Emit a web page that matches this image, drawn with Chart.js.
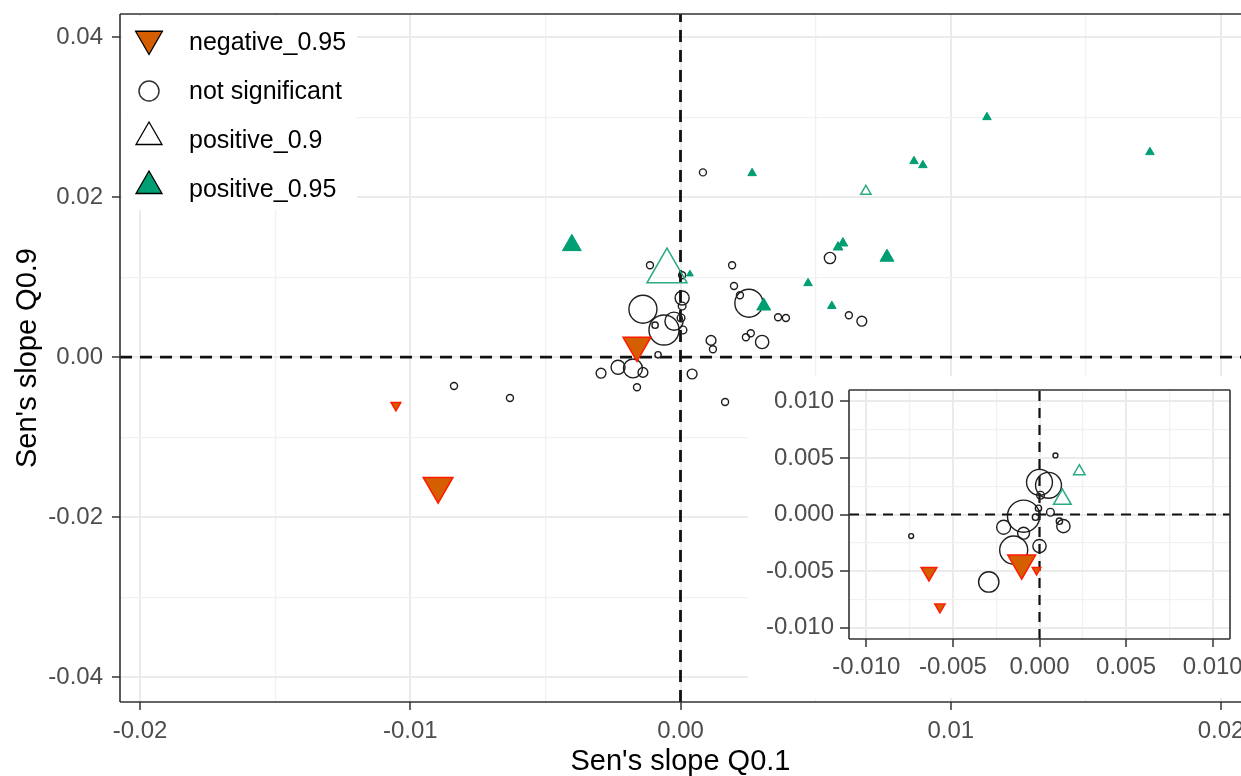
<!DOCTYPE html>
<html>
<head>
<meta charset="utf-8">
<script src="https://cdn.jsdelivr.net/npm/chart.js@4.4.1/dist/chart.umd.min.js"></script>
<style>
  html, body { margin: 0; padding: 0; background: #fff; overflow: hidden; }
  #wrap { position: relative; width: 1241px; height: 776px; }
  #main { position: absolute; left: 0; top: 0; }
  #inset { position: absolute; left: 748px; top: 376px; }
</style>
</head>
<body>
<div id="wrap">
  <canvas id="main" width="1241" height="776"></canvas>
  <canvas id="inset" width="493" height="322"></canvas>
</div>
<script>
'use strict';

// ── data ──────────────────────────────────────────────────────────────────────
// legend categories
const categories = ['negative_0.95', 'not significant', 'positive_0.9', 'positive_0.95'];

// main panel: Sen's slope Q0.1 (x) vs Q0.9 (y); sz = point size (relative)
const negX = [-0.01053, -0.00897, -0.00161];
const negY = [-0.0060, -0.0161, 0.0015];
const negSz = [1.6, 4.9, 4.6];

const pos90X = [-0.0005, 0.00686];
const pos90Y = [0.01075, 0.02075];
const pos90Sz = [6.6, 1.7];

const pos95X = [-0.00402, 0.00035, 0.00308, 0.00265, 0.00472, 0.0056, 0.00583, 0.00601, 0.00764, 0.00864, 0.00897, 0.01134, 0.01737];
const pos95Y = [0.0140, 0.0104, 0.0064, 0.0230, 0.00925, 0.0064, 0.01375, 0.01425, 0.0125, 0.0245, 0.0240, 0.0300, 0.02563];
const pos95Sz = [3.1, 1.1, 2.3, 1.4, 1.4, 1.4, 1.6, 1.6, 2.3, 1.4, 1.4, 1.4, 1.4];

const nsX = [0.00083, -0.00838, -0.00631, 0.00165, -0.00113, 0.00006, 0.00191, 0.00198, 0.0022, 0.00253,
  0.00361, 0.0039, 0.00553, 0.00623, 0.00671, 0.0026, 0.00242, 0.00302, 0.00113, 0.0012,
  -0.00139, -0.00061, -0.00024, -0.00094, 0.00006, 0.00006, 0.00002, 0.00009, -0.00083, -0.00294,
  -0.00231, -0.00176, -0.00139, -0.00161, 0.00043];
const nsY = [0.0231, -0.0036, -0.0051, -0.0056, 0.0115, 0.01025, 0.0115, 0.0089, 0.00775, 0.00675,
  0.0050, 0.0049, 0.0124, 0.00525, 0.0045, 0.0030, 0.0025, 0.0019, 0.0021, 0.0010,
  0.0060, 0.0034, 0.0045, 0.0040, 0.0074, 0.0064, 0.0049, 0.0034, 0.0003, -0.0020,
  -0.00125, -0.0014, -0.0019, -0.00375, -0.0021];
const nsSz = [1, 1, 1, 1, 1, 1, 1, 1, 1, 4,
  1, 1, 1.6, 1, 1.4, 1, 1, 1.9, 1.4, 1,
  4, 4.3, 2.6, 0.9, 2, 1.1, 1.1, 1.1, 0.9, 1.4,
  2, 2.7, 1.4, 1, 1.4];

// inset panel
const inNegX = [-0.00638, -0.00575, -0.00103, -0.00017];
const inNegY = [-0.00508, -0.00816, -0.00429, -0.00491];
const inNegSz = [2.6, 1.7, 4.6, 1.4];

const inPos90X = [0.0023, 0.00132];
const inPos90Y = [0.00381, 0.00135];
const inPos90Sz = [1.9, 2.9];

const inNsX = [-0.00741, -0.00293, -0.00149, -0.00092, -0.00207, -0.00092, 0, -0.00023, -0.00006, 0.00006,
  0, 0.00052, 0.00063, 0.00115, 0.00138, 0.00092];
const inNsY = [-0.00191, -0.00596, -0.00314, -0.00165, -0.00112, -0.00015, -0.00279, -0.00024, 0.00055, 0.0017,
  0.00284, 0.00258, 0.0002, -0.00059, -0.00103, 0.00522];
const inNsSz = [0.7, 2.9, 4, 1.7, 2, 4.6, 1.9, 0.9, 0.9, 1.1,
  3.7, 3.7, 1.1, 0.9, 1.9, 0.7];

// axis ticks
const xMajor = [-0.02, -0.01, 0, 0.01, 0.02];
const xMinor = [-0.015, -0.005, 0.005, 0.015];
const yMajor = [-0.04, -0.02, 0, 0.02, 0.04];
const yMinor = [-0.03, -0.01, 0.01, 0.03];
const inMajor = [-0.01, -0.005, 0, 0.005, 0.01];
const inMinor = [-0.0075, -0.0025, 0.0025, 0.0075];

// ── helpers ───────────────────────────────────────────────────────────────────
const FONT = "'Liberation Sans', Arial, sans-serif";
const SZ = 3.5; // px radius per size unit

const pts = (xs, ys) => xs.map((x, i) => ({ x, y: ys[i] }));
const radii = sz => sz.map(s => s * SZ);
const isIn = (arr, v) => arr.some(m => Math.abs(m - v) < 1e-9);

const STYLE = {
  neg:   { pointStyle: 'triangle', rotation: 180, bg: '#D55E00', border: '#FF1A00', bw: 1.5 },
  pos95: { pointStyle: 'triangle', rotation: 0, bg: '#009E73', border: '#009E73', bw: 1 },
  pos90: { pointStyle: 'triangle', rotation: 0, bg: 'rgba(0,0,0,0)', border: '#2AAA85', bw: 1.5 },
  ns:    { pointStyle: 'circle', rotation: 0, bg: 'rgba(0,0,0,0)', border: '#1e1e1e', bw: 1.4 },
};

function ds(label, st, xs, ys, sz) {
  return {
    label,
    data: pts(xs, ys),
    pointStyle: st.pointStyle,
    pointRotation: st.rotation,
    pointRadius: radii(sz),
    pointBackgroundColor: st.bg,
    pointBorderColor: st.border,
    pointBorderWidth: st.bw,
    showLine: false,
  };
}

function axis(min, max, major, minor, digits, o) {
  return {
    type: 'linear',
    min, max,
    afterBuildTicks: s => { s.ticks = major.concat(minor).sort((a, b) => a - b).map(v => ({ value: v })); },
    afterFit: s => {
      if (s.isHorizontal()) s.height = o.size; else s.width = o.size;
      s.paddingLeft = 0; s.paddingRight = 0; s.paddingTop = 0; s.paddingBottom = 0;
    },
    border: { display: false },
    grid: {
      color: c => isIn(major, c.tick.value) ? '#EBEBEB' : '#F1F1F1',
      lineWidth: c => isIn(major, c.tick.value) ? 2 : 1.2,
      tickColor: c => isIn(major, c.tick.value) ? '#333333' : 'rgba(0,0,0,0)',
      tickWidth: 1.5,
      tickLength: o.tickLen,
    },
    ticks: {
      autoSkip: false, maxRotation: 0,
      padding: o.pad,
      color: '#4D4D4D',
      font: { family: FONT, size: o.font },
      callback: v => isIn(major, v) ? Number(v).toFixed(digits) : '',
    },
    title: o.title ? {
      display: true, text: o.title, color: '#000',
      font: { family: FONT, size: 29, lineHeight: 1 },
      padding: o.titlePad,
    } : { display: false },
  };
}

// dashed lines at x = 0 and y = 0
function zeroLines(width, dash) {
  return {
    id: 'zeroLines',
    beforeDatasetsDraw(chart) {
      const { ctx, chartArea: a, scales } = chart;
      const x0 = scales.x.getPixelForValue(0);
      const y0 = scales.y.getPixelForValue(0);
      ctx.save();
      ctx.strokeStyle = '#111';
      ctx.lineWidth = width;
      ctx.setLineDash(dash);
      ctx.beginPath();
      ctx.moveTo(a.left, y0); ctx.lineTo(a.right, y0);
      ctx.moveTo(x0, a.bottom); ctx.lineTo(x0, a.top);
      ctx.stroke();
      ctx.restore();
    }
  };
}

function panelBorder(sides) {
  return {
    id: 'panelBorder',
    afterDraw(chart) {
      const { ctx, chartArea: a } = chart;
      ctx.save();
      ctx.strokeStyle = '#333';
      ctx.lineWidth = 1.6;
      ctx.beginPath();
      if (sides.includes('t')) { ctx.moveTo(a.left, a.top); ctx.lineTo(a.right, a.top); }
      if (sides.includes('r')) { ctx.moveTo(a.right, a.top); ctx.lineTo(a.right, a.bottom); }
      if (sides.includes('b')) { ctx.moveTo(a.left, a.bottom); ctx.lineTo(a.right, a.bottom); }
      if (sides.includes('l')) { ctx.moveTo(a.left, a.top); ctx.lineTo(a.left, a.bottom); }
      ctx.stroke();
      ctx.restore();
    }
  };
}

function triPath(ctx, x, y, r, rot) {
  let rad = rot * Math.PI / 180;
  ctx.beginPath();
  for (let k = 0; k < 3; k++) {
    const px = x + Math.sin(rad) * r, py = y - Math.cos(rad) * r;
    if (k === 0) ctx.moveTo(px, py); else ctx.lineTo(px, py);
    rad += 2 * Math.PI / 3;
  }
  ctx.closePath();
}

// legend inside the main panel, top-left
const legendBox = {
  id: 'legendBox',
  afterDatasetsDraw(chart) {
    const { ctx, chartArea: a } = chart;
    ctx.save();
    ctx.fillStyle = '#fff';
    ctx.fillRect(a.left + 2, a.top + 2, 235, 194);
    const sx = a.left + 29;
    categories.forEach((lab, i) => {
      const yc = a.top + 28 + i * 49;
      ctx.lineWidth = 1.3;
      ctx.strokeStyle = '#000';
      if (i === 0) {
        triPath(ctx, sx, yc - 3, 15.5, 180);
        ctx.fillStyle = '#D55E00'; ctx.fill(); ctx.stroke();
      } else if (i === 1) {
        ctx.beginPath(); ctx.arc(sx, yc, 10, 0, Math.PI * 2);
        ctx.strokeStyle = '#333'; ctx.lineWidth = 1.5; ctx.stroke();
      } else if (i === 2) {
        triPath(ctx, sx, yc - 3, 15, 0);
        ctx.stroke();
      } else {
        triPath(ctx, sx, yc - 3, 15, 0);
        ctx.fillStyle = '#009E73'; ctx.fill(); ctx.stroke();
      }
      ctx.fillStyle = '#000';
      ctx.font = '25px ' + FONT;
      ctx.textBaseline = 'middle';
      ctx.textAlign = 'left';
      ctx.fillText(lab, a.left + 69, yc + 1);
    });
    ctx.restore();
  }
};

const whiteBg = {
  id: 'whiteBg',
  beforeDraw(chart) {
    const ctx = chart.ctx;
    ctx.save();
    ctx.fillStyle = '#fff';
    ctx.fillRect(0, 0, chart.width, chart.height);
    ctx.restore();
  }
};

const common = {
  responsive: false,
  devicePixelRatio: 1,
  animation: false,
  events: [],
  plugins: { legend: { display: false }, tooltip: { enabled: false } },
};

// ── main chart ────────────────────────────────────────────────────────────────
new Chart(document.getElementById('main'), {
  type: 'scatter',
  data: {
    datasets: [
      ds(categories[0], STYLE.neg, negX, negY, negSz),
      ds(categories[3], STYLE.pos95, pos95X, pos95Y, pos95Sz),
      ds(categories[2], STYLE.pos90, pos90X, pos90Y, pos90Sz),
      ds(categories[1], STYLE.ns, nsX, nsY, nsSz),
    ]
  },
  options: {
    ...common,
    layout: { autoPadding: false, padding: { top: 14, right: 0, left: 0, bottom: 0 } },
    scales: {
      x: axis(-0.02074, 0.02074, xMajor, xMinor, 2,
        { size: 74, tickLen: 8, pad: 7, font: 24, title: "Sen's slope Q0.1", titlePad: { top: 0, bottom: 0 } }),
      y: axis(-0.0431, 0.0429, yMajor, yMinor, 2,
        { size: 120, tickLen: 8, pad: 9, font: 24, title: "Sen's slope Q0.9", titlePad: { top: 13, bottom: 0 } }),
    }
  },
  plugins: [whiteBg, zeroLines(2.8, [12, 8]), legendBox, panelBorder('tlb')]
});

// ── inset chart ───────────────────────────────────────────────────────────────
new Chart(document.getElementById('inset'), {
  type: 'scatter',
  data: {
    datasets: [
      ds(categories[0], STYLE.neg, inNegX, inNegY, inNegSz),
      ds(categories[2], STYLE.pos90, inPos90X, inPos90Y, inPos90Sz),
      ds(categories[1], STYLE.ns, inNsX, inNsY, inNsSz),
    ]
  },
  options: {
    ...common,
    layout: { autoPadding: false, padding: { top: 14, right: 11, left: 0, bottom: 0 } },
    scales: {
      x: axis(-0.011, 0.011, inMajor, inMinor, 3, { size: 59, tickLen: 8, pad: 6, font: 24 }),
      y: axis(-0.011, 0.011, inMajor, inMinor, 3, { size: 101, tickLen: 9, pad: 6, font: 24 }),
    }
  },
  plugins: [whiteBg, zeroLines(2.2, [10, 7]), panelBorder('tlbr')]
});
</script>
</body>
</html>
